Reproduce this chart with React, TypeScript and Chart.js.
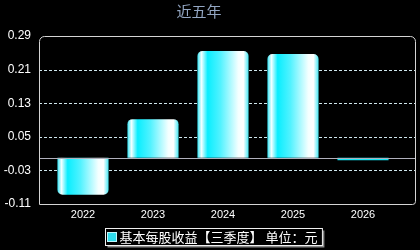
import React, { useEffect, useRef } from "react";
import { Chart, registerables } from "chart.js";

Chart.register(...registerables);

const categories = ["2022", "2023", "2024", "2025", "2026"];
const values = [-0.088, 0.092, 0.254, 0.247, -0.006];
const yTicks = [-0.11, -0.03, 0.05, 0.13, 0.21, 0.29];
const titleText = "近五年";
const legendLabel = "基本每股收益【三季度】 单位：元";

const BAR_PCT = 0.73;

export default function App() {
  const ref = useRef<HTMLCanvasElement>(null);

  useEffect(() => {
    const canvas = ref.current!;

    const framePlugin = {
      id: "frame",
      beforeDatasetsDraw(chart: any) {
        const { ctx, chartArea } = chart;
        const y = chart.scales.y;
        const left = chartArea.left - 9;
        const right = chartArea.right + 17;
        ctx.save();
        ctx.strokeStyle = "#cfe6ec";
        ctx.lineWidth = 1;
        ctx.setLineDash([3, 2]);
        for (const v of yTicks.slice(1, -1)) {
          const py = Math.round(y.getPixelForValue(v)) + 0.5;
          ctx.beginPath();
          ctx.moveTo(left, py);
          ctx.lineTo(right, py);
          ctx.stroke();
        }
        ctx.restore();
      },
      afterDatasetsDraw(chart: any) {
        const { ctx, chartArea } = chart;
        const y = chart.scales.y;
        const left = chartArea.left - 9;
        const right = chartArea.right + 17;
        const top = Math.round(y.getPixelForValue(yTicks[yTicks.length - 1]));
        const bottom = Math.round(y.getPixelForValue(yTicks[0]));
        ctx.save();
        const zy = Math.round(y.getPixelForValue(0)) + 0.5;
        ctx.strokeStyle = "#b0b0bc";
        ctx.lineWidth = 1;
        ctx.beginPath();
        ctx.moveTo(left, zy);
        ctx.lineTo(right, zy);
        ctx.stroke();
        ctx.strokeStyle = "#d4d4d4";
        ctx.beginPath();
        (ctx as any).roundRect(left + 0.5, top + 0.5, right - left, bottom - top, [5, 5, 3, 0]);
        ctx.stroke();
        ctx.restore();
      },
      afterDraw(chart: any) {
        const { ctx } = chart;
        ctx.save();
        ctx.font = "13px 'Noto Sans CJK SC'";
        const tw = ctx.measureText(legendLabel).width;
        const sq = 9;
        const boxW = 2 + sq + 3 + tw + 5;
        const boxH = 17;
        const bx = Math.round(213 - boxW / 2) + 0.5;
        const by = 228.5;
        ctx.fillStyle = "#8a8a8a";
        ctx.fillRect(bx + 2, by + 2, boxW, boxH);
        ctx.fillStyle = "#000";
        ctx.fillRect(bx, by, boxW, boxH);
        ctx.strokeStyle = "#f0f0f0";
        ctx.lineWidth = 1;
        ctx.strokeRect(bx, by, boxW, boxH);
        ctx.fillStyle = "#2fdcec";
        ctx.fillRect(bx + 2, by + 4, sq, sq);
        ctx.strokeStyle = "#bff4fa";
        ctx.strokeRect(bx + 2, by + 4, sq, sq);
        ctx.fillStyle = "#ffffff";
        ctx.textBaseline = "middle";
        ctx.textAlign = "left";
        ctx.fillText(legendLabel, bx + 2 + sq + 3, by + boxH / 2 + 0.5);
        ctx.restore();
      },
    };

    const chart = new Chart(canvas, {
      type: "bar",
      data: {
        labels: categories,
        datasets: [
          {
            label: legendLabel,
            data: values,
            barPercentage: BAR_PCT,
            categoryPercentage: 1,
            borderRadius: (c: any) => (Math.abs(values[c.dataIndex] ?? 1) < 0.02 ? 0 : 5),
            borderSkipped: "start",
            backgroundColor: (c: any) => {
              const ch = c.chart;
              const area = ch.chartArea;
              if (!area || c.type !== "data") return "#22e8f8";
              const v = values[c.dataIndex];
              if (Math.abs(v) < 0.02) return "#10e6f6";
              const cx = ch.scales.x.getPixelForValue(c.dataIndex);
              const w = (area.width / categories.length) * BAR_PCT;
              const g = ch.ctx.createLinearGradient(cx - w / 2, 0, cx + w / 2, 0);
              g.addColorStop(0, "#38e6f6");
              g.addColorStop(0.08, "#f2ffff");
              g.addColorStop(0.2, "#0aeeff");
              g.addColorStop(0.45, "#52f2ff");
              g.addColorStop(0.8, "#f4ffff");
              g.addColorStop(0.9, "#ffffff");
              g.addColorStop(1, "#48e8f4");
              return g;
            },
          } as any,
        ],
      },
      options: {
        responsive: false,
        animation: false,
        layout: { padding: { left: 0, right: 22, top: 0, bottom: 0 } },
        plugins: {
          legend: { display: false },
          tooltip: { enabled: false },
          title: {
            display: true,
            text: titleText,
            color: "#93a6c2",
            font: { family: "'Noto Sans CJK SC'", size: 15, weight: "normal" },
            padding: { top: 2, bottom: 16 },
          },
        },
        scales: {
          x: {
            grid: { display: false, drawTicks: false },
            border: { display: false },
            ticks: {
              color: "#ffffff",
              font: { family: "'Liberation Sans', Arial", size: 11 },
              padding: 4,
            },
            afterFit: (s: any) => {
              s.height = 46;
            },
          },
          y: {
            min: yTicks[0],
            max: yTicks[yTicks.length - 1],
            grid: { display: false, drawTicks: false },
            border: { display: false },
            ticks: {
              color: "#ffffff",
              font: { family: "'Liberation Sans', Arial", size: 12 },
              padding: 17,
              callback: (v: any) => Number(v).toFixed(2),
            },
            afterBuildTicks: (s: any) => {
              s.ticks = yTicks.map((v) => ({ value: v }));
            },
            afterFit: (s: any) => {
              s.width = 48;
            },
          },
        },
      } as any,
      plugins: [framePlugin],
    });

    return () => chart.destroy();
  }, []);

  return (
    <div
      style={{
        position: "fixed",
        left: 0,
        top: 0,
        width: 420,
        height: 250,
        background: "#000",
      }}
    >
      <canvas ref={ref} width={420} height={250} style={{ width: 420, height: 250, display: "block" }} />
    </div>
  );
}
